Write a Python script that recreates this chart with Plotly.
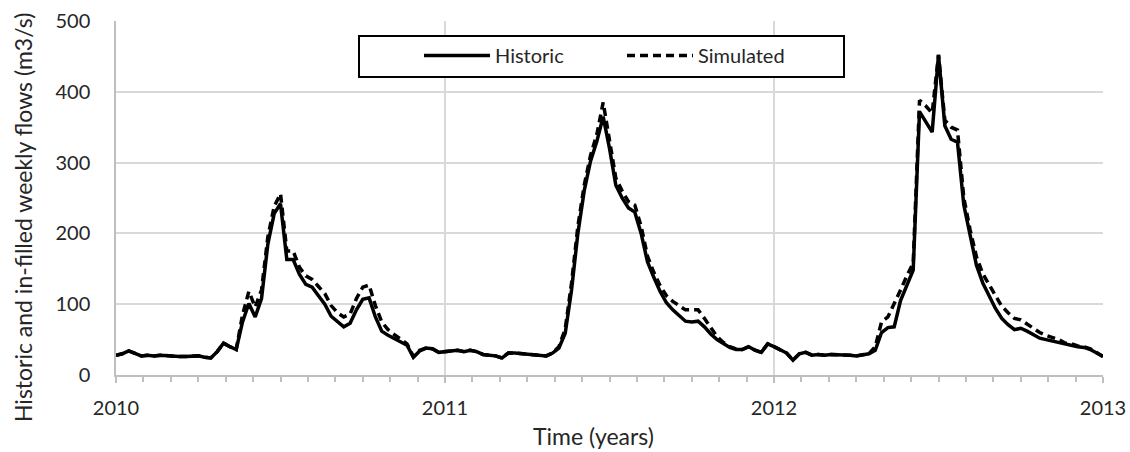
import numpy as np
import plotly.graph_objects as go

# Weekly flows (m3/s), 2010-01 to 2013-01, one value per week
years = [2010, 2011, 2012, 2013]
year_labels = ["2010", "2011", "2012", "2013"]
weeks_per_year = 52
x_title = "Time (years)"
y_title = "Historic and in-filled weekly flows (m3/s)"

historic = [
    # 2010
    28, 30, 34, 30, 27, 28, 27, 28, 27, 27, 26, 26, 26, 27, 25, 24, 33, 45, 40, 36,
    75, 101, 82, 108, 185, 228, 242, 163, 163, 142, 128, 124, 112, 100, 83, 75, 68, 73, 92, 107,
    109, 82, 62, 56, 51, 47, 42, 25, 34, 38, 37, 32,
    # 2011
    33, 34, 35, 33, 35, 33, 29, 28, 27, 24, 31, 31, 30, 30, 29, 28, 27, 31, 38, 59,
    120, 200, 260, 302, 330, 365, 320, 268, 250, 236, 230, 200, 160, 138, 118, 102, 92, 84, 76, 75,
    76, 68, 58, 50, 44, 39, 36, 36, 40, 35, 32, 44,
    # 2012
    40, 35, 31, 21, 30, 32, 28, 29, 28, 29, 29, 28, 28, 27, 28, 30, 35, 60, 67, 68,
    105, 128, 148, 372, 357, 343, 452, 352, 333, 329, 240, 195, 155, 130, 112, 94, 80, 71, 64, 66,
    62, 57, 52, 50, 48, 46, 43, 42, 40, 39, 36, 31, 26,
]

simulated = [
    # 2010
    28, 30, 34, 30, 27, 28, 27, 28, 27, 27, 26, 26, 26, 27, 25, 24, 33, 45, 40, 36,
    85, 118, 96, 120, 195, 238, 256, 175, 175, 152, 140, 135, 125, 115, 98, 88, 82, 86, 108, 124,
    127, 98, 75, 64, 57, 50, 44, 26, 35, 38, 37, 32,
    # 2011
    33, 34, 35, 33, 35, 33, 29, 28, 27, 24, 31, 31, 30, 30, 29, 28, 27, 31, 40, 65,
    130, 210, 268, 310, 340, 385, 330, 278, 260, 245, 240, 210, 168, 145, 126, 112, 104, 98, 92, 92,
    92, 80, 66, 54, 46, 40, 37, 36, 40, 35, 32, 44,
    # 2012
    40, 35, 31, 21, 30, 32, 28, 29, 28, 29, 29, 28, 28, 27, 28, 30, 40, 75, 82, 100,
    120, 140, 158, 388, 380, 370, 452, 360, 350, 346, 250, 205, 167, 143, 128, 112, 97, 88, 80, 78,
    72, 66, 60, 56, 53, 50, 45, 44, 41, 40, 37, 32, 26,
]

# decimal-year position of each weekly sample
t = years[0] + np.arange(len(historic)) / weeks_per_year

FONT = "Lato"
TEXT = "#262626"
GRID = "#d9d9d9"
AXIS = "#bfbfbf"

fig = go.Figure()
fig.add_trace(go.Scatter(
    x=t, y=historic, mode="lines", name="Historic",
    line=dict(color="black", width=3.5),
))
fig.add_trace(go.Scatter(
    x=t, y=simulated, mode="lines", name="Simulated",
    line=dict(color="black", width=3.5, dash="8px,5px"),
))

# white legend frame with a black border
fig.add_shape(
    type="rect", xref="paper", yref="paper",
    x0=0.2462, x1=0.7376, y0=0.8418, y1=0.9576,
    line=dict(color="black", width=2), fillcolor="white", layer="above",
)

# axis titles, placed relative to the whole chart area
fig.add_annotation(
    text=y_title, xref="paper", yref="paper", x=-0.0942, y=0.4435,
    xanchor="center", yanchor="middle", textangle=-90, showarrow=False,
    font=dict(family=FONT, size=23, color=TEXT),
)
fig.add_annotation(
    text=x_title, xref="paper", yref="paper", x=0.4833, y=-0.1723,
    xanchor="center", yanchor="middle", showarrow=False,
    font=dict(family=FONT, size=23, color=TEXT),
)

fig.update_layout(
    width=1130, height=452,
    margin=dict(l=116, r=27, t=21, b=77),
    paper_bgcolor="white", plot_bgcolor="white",
    font=dict(family=FONT, size=20, color=TEXT),
    showlegend=True,
    legend=dict(
        orientation="h", x=0.307, y=0.9025, xanchor="left", yanchor="middle",
        bgcolor="rgba(0,0,0,0)", borderwidth=0,
        entrywidth=122, entrywidthmode="pixels", itemwidth=66,
        font=dict(family=FONT, size=20, color=TEXT),
    ),
    xaxis=dict(
        range=[years[0], years[-1]], automargin=False,
        tickmode="array", tickvals=years, ticktext=year_labels,
        showgrid=True, gridcolor=GRID, gridwidth=1.5,
        showline=True, linecolor=AXIS, linewidth=1.5,
        ticks="outside", ticklen=6, tickcolor=AXIS, tickwidth=1.5,
        ticklabelstandoff=8,
        minor=dict(dtick=1 / 12, tick0=years[0], ticks="outside", ticklen=5,
                   tickcolor=AXIS, tickwidth=1.5, showgrid=False),
        zeroline=False,
        tickfont=dict(size=20),
    ),
    yaxis=dict(
        range=[0, 500], dtick=100, automargin=False,
        showgrid=True, gridcolor=GRID, gridwidth=1.5,
        showline=True, linecolor=AXIS, linewidth=1.5,
        ticks="", ticklabelstandoff=20,
        zeroline=False,
        tickfont=dict(size=20),
    ),
)

fig.write_html("out.html")
